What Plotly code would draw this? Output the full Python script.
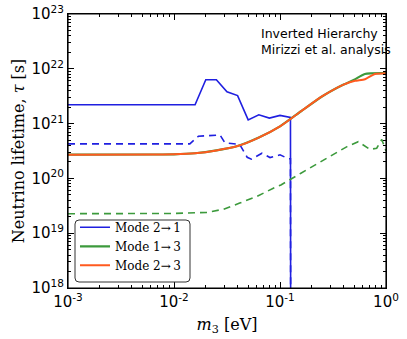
import plotly.graph_objects as go

# decay mode 2 -> 1 (solid: standard, dashed: Mirizzi et al.)
m3_21 = [0.001, 0.0158, 0.01995, 0.0251, 0.0316, 0.0398, 0.0501, 0.0631, 0.0794, 0.100, 0.1255, 0.1265]
tau_21 = [2.21e21, 2.21e21, 6.31e21, 6.31e21, 3.80e21, 3.24e21, 1.17e21, 1.45e21, 1.26e21, 1.41e21, 1.30e21, 1e15]

m3_21_mir = [0.001, 0.0141, 0.0170, 0.0234, 0.0272, 0.0302, 0.0417, 0.0490, 0.0537, 0.0676,
             0.0805, 0.100, 0.120, 0.1255, 0.1265]
tau_21_mir = [4.27e20, 4.27e20, 5.89e20, 6.17e20, 6.17e20, 4.47e20, 4.17e20, 2.43e20, 2.24e20, 2.88e20,
              2.40e20, 2.69e20, 2.29e20, 2.29e20, 1e15]

# decay mode 1 -> 3
m3_13 = [0.001, 0.00631, 0.01, 0.0158, 0.0251, 0.0398, 0.0631, 0.1, 0.158, 0.251, 0.398, 0.501, 0.631, 1.0]
tau_13 = [2.71e20, 2.73e20, 2.75e20, 2.88e20, 3.24e20, 3.89e20, 5.56e20, 8.91e20, 1.68e21, 3.16e21,
          5.16e21, 6.31e21, 8.04e21, 8.32e21]

m3_13_mir = [0.001, 0.01, 0.0204, 0.0292, 0.0417, 0.0603, 0.0865, 0.102, 0.156, 0.186, 0.277, 0.429,
             0.547, 0.706, 0.817, 0.912, 1.0]
tau_13_mir = [2.27e19, 2.29e19, 2.40e19, 2.73e19, 3.55e19, 4.68e19, 6.61e19, 7.59e19, 1.23e20, 1.51e20,
              2.34e20, 3.80e20, 4.68e20, 3.39e20, 3.55e20, 5.13e20, 3.16e20]

# decay mode 2 -> 3
m3_23 = [0.001, 0.00631, 0.01, 0.0158, 0.0251, 0.0398, 0.0631, 0.1, 0.158, 0.251, 0.398, 0.510, 0.634,
         0.787, 1.0]
tau_23 = [2.71e20, 2.73e20, 2.75e20, 2.88e20, 3.24e20, 3.89e20, 5.56e20, 8.91e20, 1.68e21, 3.16e21,
          5.16e21, 6.03e21, 6.46e21, 8.04e21, 8.32e21]

x_tickvals = [0.001, 0.01, 0.1, 1.0]
x_ticktext = ["10<sup>-3</sup>", "10<sup>-2</sup>", "10<sup>-1</sup>", "10<sup>0</sup>"]
y_tickvals = [1e18, 1e19, 1e20, 1e21, 1e22, 1e23]
y_ticktext = ["10<sup>18</sup>", "10<sup>19</sup>", "10<sup>20</sup>", "10<sup>21</sup>",
              "10<sup>22</sup>", "10<sup>23</sup>"]

BLUE = "#1f1fe0"
GREEN = "#3c9a3c"
ORANGE = "#ff5a1f"
DASH = "7px,5px"
SERIF = "DejaVu Serif"

W, H = 407, 339
ML, MR, MT, MB = 68, 21, 14, 51
PW, PH = W - ML - MR, H - MT - MB

fig = go.Figure()
fig.add_trace(go.Scatter(x=m3_21, y=tau_21, mode="lines", name="Mode 2\u2192\u20091",
                         line=dict(color=BLUE, width=1.6)))
fig.add_trace(go.Scatter(x=m3_21_mir, y=tau_21_mir, mode="lines", showlegend=False,
                         line=dict(color=BLUE, width=1.6, dash=DASH)))
fig.add_trace(go.Scatter(x=m3_13, y=tau_13, mode="lines", name="Mode 1\u2192\u20093",
                         line=dict(color=GREEN, width=2.2, shape="spline", smoothing=0.6)))
fig.add_trace(go.Scatter(x=m3_13_mir, y=tau_13_mir, mode="lines", showlegend=False,
                         line=dict(color=GREEN, width=1.6, dash=DASH)))
fig.add_trace(go.Scatter(x=m3_23, y=tau_23, mode="lines", name="Mode 2\u2192\u20093",
                         line=dict(color=ORANGE, width=2, shape="spline", smoothing=0.6)))

fig.add_annotation(x=0.60, y=0.965, xref="paper", yref="paper", xanchor="left", yanchor="top",
                   align="left", showarrow=False,
                   text="Inverted Hierarchy<br>Mirizzi et al. analysis",
                   font=dict(family="DejaVu Sans", size=12.5, color="black"))


def rounded_box(x0, y0, x1, y1, r):
    # pixel box -> paper-coordinate svg path with rounded corners
    px = lambda v: (v - ML) / PW
    py = lambda v: (H - MB - v) / PH
    return (f"M {px(x0 + r)},{py(y0)} L {px(x1 - r)},{py(y0)} Q {px(x1)},{py(y0)} {px(x1)},{py(y0 + r)} "
            f"L {px(x1)},{py(y1 - r)} Q {px(x1)},{py(y1)} {px(x1 - r)},{py(y1)} "
            f"L {px(x0 + r)},{py(y1)} Q {px(x0)},{py(y1)} {px(x0)},{py(y1 - r)} "
            f"L {px(x0)},{py(y0 + r)} Q {px(x0)},{py(y0)} {px(x0 + r)},{py(y0)} Z")


# legend frame
fig.add_shape(type="path", xref="paper", yref="paper", path=rounded_box(75, 220, 190, 282, 4),
              line=dict(color="#333333", width=1), fillcolor="white", layer="above")
# plot frame
fig.add_shape(type="rect", xref="paper", yref="paper", x0=0, x1=1, y0=0, y1=1,
              line=dict(color="black", width=1.2), layer="above")

minor_x = [k * 10.0 ** e for e in range(-3, 0) for k in range(2, 10)]
minor_y = [k * 10.0 ** e for e in range(18, 23) for k in range(2, 10)]

axis_style = dict(type="log", ticks="inside", ticklen=6, tickwidth=1, tickcolor="black",
                  showline=True, linecolor="black", linewidth=1.2, mirror="ticks",
                  showgrid=False, zeroline=False, automargin=False, ticklabeloverflow="allow",
                  tickfont=dict(family="DejaVu Sans", size=15, color="black"))

fig.update_xaxes(range=[-3, 0], tickvals=x_tickvals, ticktext=x_ticktext,
                 minor=dict(tickvals=minor_x, ticks="inside", ticklen=3, tickcolor="black", showgrid=False),
                 title=dict(text="<i>m</i><sub>3</sub> [eV]", standoff=8,
                            font=dict(family=SERIF, size=16, color="black")),
                 **axis_style)
fig.update_yaxes(range=[18, 23], tickvals=y_tickvals, ticktext=y_ticktext,
                 minor=dict(tickvals=minor_y, ticks="inside", ticklen=3, tickcolor="black", showgrid=False),
                 title=dict(text="Neutrino lifetime, <i>\u03c4</i> [s]", standoff=2,
                            font=dict(family=SERIF, size=16, color="black")),
                 **axis_style)

fig.update_layout(
    width=W, height=H,
    margin=dict(l=ML, r=MR, t=MT, b=MB),
    plot_bgcolor="white", paper_bgcolor="white",
    legend=dict(x=0.022, y=0.03, xanchor="left", yanchor="bottom",
                bgcolor="rgba(0,0,0,0)", borderwidth=0,
                font=dict(family=SERIF, size=12, color="black"),
                tracegroupgap=0, itemwidth=30),
)

# drop the browser's default 8px body margin so the figure fills the window
fig.write_html("out.html", config={"displayModeBar": False},
               post_script="document.body.style.margin = '0';")
